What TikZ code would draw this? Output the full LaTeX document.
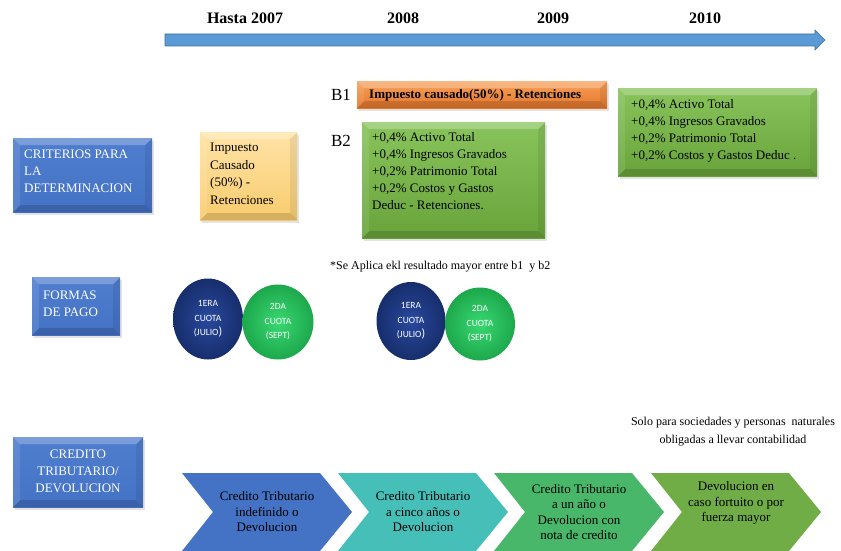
\documentclass[tikz,border=0pt]{standalone}
\usepackage{fontspec}
\setmainfont{Liberation Serif}
\newfontfamily\cuotafont{Carlito}
\usetikzlibrary{shapes.geometric,shadows}

\definecolor{lineblue}{HTML}{5B9BD5}
\definecolor{lineedge}{HTML}{41719C}
\definecolor{boxblue}{HTML}{4472C4}
\definecolor{boxbluetop}{HTML}{4F7ECF}
\definecolor{sandtop}{HTML}{FFE3A6}
\definecolor{sandbot}{HTML}{F8CC6E}
\definecolor{orangetop}{HTML}{F7A05A}
\definecolor{orangebot}{HTML}{E5772A}
\definecolor{leaftop}{HTML}{88C35B}
\definecolor{leafbot}{HTML}{69A43B}
\definecolor{navyin}{HTML}{29499E}
\definecolor{navyout}{HTML}{172E6C}
\definecolor{mintin}{HTML}{38D872}
\definecolor{mintout}{HTML}{1DA84C}
\definecolor{chevA}{HTML}{4472C4}
\definecolor{chevB}{HTML}{45BFB8}
\definecolor{chevC}{HTML}{48B76A}
\definecolor{chevD}{HTML}{70AD47}

\tikzset{
  bevel/.style={path picture={
    \coordinate (bNW) at (path picture bounding box.north west);
    \coordinate (bNE) at (path picture bounding box.north east);
    \coordinate (bSE) at (path picture bounding box.south east);
    \coordinate (bSW) at (path picture bounding box.south west);
    \coordinate (iNW) at ([xshift=7pt,yshift=-7pt]bNW);
    \coordinate (iNE) at ([xshift=-7pt,yshift=-7pt]bNE);
    \coordinate (iSE) at ([xshift=-7pt,yshift=7pt]bSE);
    \coordinate (iSW) at ([xshift=7pt,yshift=7pt]bSW);
    \fill[white,opacity=.25] (bNW)--(bNE)--(iNE)--(iNW)--cycle;
    \fill[white,opacity=.10] (bNW)--(iNW)--(iSW)--(bSW)--cycle;
    \fill[black,opacity=.07] (bNE)--(bSE)--(iSE)--(iNE)--cycle;
    \fill[black,opacity=.14] (bSW)--(iSW)--(iSE)--(bSE)--cycle;
  }},
  panel/.style={rectangle, inner sep=0pt, anchor=north west, bevel,
    drop shadow={shadow xshift=1.5pt, shadow yshift=-3pt, opacity=.22}},
  bluepanel/.style={panel, top color=boxbluetop, bottom color=boxblue},
  sandpanel/.style={panel, top color=sandtop, bottom color=sandbot},
  orangepanel/.style={panel, top color=orangetop, bottom color=orangebot},
  leafpanel/.style={panel, top color=leaftop, bottom color=leafbot},
  body/.style={inner sep=0pt, font=\fontsize{13}{17}\selectfont},
  year/.style={inner sep=0pt, font=\fontsize{16}{18}\selectfont\bfseries},
  blabel/.style={inner sep=0pt, font=\fontsize{17}{18}\selectfont},
  cuota/.style={ellipse, inner sep=0pt, text=white, align=center,
    font=\cuotafont\fontsize{9.5}{14.5}\selectfont},
  chevtext/.style={inner sep=0pt, align=center, font=\fontsize{13}{15.5}\selectfont},
  chev/.pic={\fill[pic actions] (0,0)--(138,0)--(170,39)--(138,78)--(0,78)--(31,39)--cycle;}
}

\begin{document}
\begin{tikzpicture}[x=1pt,y=-1pt]
\path[use as bounding box] (0,0) rectangle (841,551);

% time line with year headings
\filldraw[fill=lineblue, draw=lineedge, line width=.6pt]
  (165,34)--(815,34)--(815,30)--(825,40)--(815,50)--(815,46)--(165,46)--cycle;
\node[year] (y07) at (245,18) {Hasta 2007};
\node[year] (y08) at (403,18) {2008};
\node[year] (y09) at (553,18) {2009};
\node[year] (y10) at (705,18) {2010};

% row: criteria
\node[bluepanel, minimum width=139, minimum height=74] (crit) at (13,138) {};
\node[body, text=white, align=left, anchor=west] (critt) at (24,171)
  {CRITERIOS PARA\\LA\\DETERMINACION};

\node[sandpanel, minimum width=97, minimum height=88] (imp) at (200,132) {};
\node[body, align=left, anchor=west, font=\fontsize{13}{17.5}\selectfont] (impt) at (210,174)
  {Impuesto\\Causado\\(50\%) -\\Retenciones};

\node[blabel] (b1) at (341,95) {B1};
\node[blabel] (b2) at (341,141) {B2};

\node[orangepanel, minimum width=250, minimum height=27] (b1box) at (357,81) {};
\node[body, anchor=west, font=\fontsize{13}{15}\selectfont\bfseries] (b1t) at (369,95)
  {Impuesto causado(50\%) - Retenciones};

\node[leafpanel, minimum width=183, minimum height=116] (b2box) at (362,122) {};
\node[body, align=left, anchor=west] (b2t) at (372,171)
  {+0,4\% Activo Total\\+0,4\% Ingresos Gravados\\+0,2\% Patrimonio Total\\
   +0,2\% Costos y Gastos\\Deduc - Retenciones.};

\node[leafpanel, minimum width=199, minimum height=88] (tenbox) at (618,88) {};
\node[body, align=left, anchor=west] (tent) at (631,131)
  {+0,4\% Activo Total\\+0,4\% Ingresos Gravados\\+0,2\% Patrimonio Total\\
   +0,2\% Costos y Gastos Deduc .};

\node[inner sep=0pt, anchor=west, font=\fontsize{12}{14}\selectfont] (note) at (330,267)
  {*Se Aplica ekl resultado mayor entre b1\ \ y b2};

% row: payment
\node[bluepanel, minimum width=88, minimum height=58] (pago) at (32,277) {};
\node[body, text=white, align=left, anchor=west] (pagot) at (43,304)
  {FORMAS\\DE PAGO};

\node[cuota, shade, inner color=navyin, outer color=navyout,
  minimum width=70, minimum height=81] (c1a) at (208,319)
  {1ERA\\CUOTA\\(JULIO{\fontsize{12}{12}\selectfont)}};
\node[cuota, shade, inner color=mintin, outer color=mintout,
  minimum width=71, minimum height=75] (c2a) at (278,322)
  {2DA\\CUOTA\\(SEPT)};
\node[cuota, shade, inner color=navyin, outer color=navyout,
  minimum width=69, minimum height=78] (c1b) at (411,321)
  {1ERA\\CUOTA\\(JULIO{\fontsize{12}{12}\selectfont)}};
\node[cuota, shade, inner color=mintin, outer color=mintout,
  minimum width=70, minimum height=73] (c2b) at (480,324)
  {2DA\\CUOTA\\(SEPT)};

% row: tax credit / refund
\node[bluepanel, minimum width=130, minimum height=70] (cred) at (13,437) {};
\node[body, text=white, align=center] (credt) at (78,471)
  {CREDITO\\TRIBUTARIO/\\DEVOLUCION};

\node[inner sep=0pt, align=center, font=\fontsize{12}{18}\selectfont] (solo) at (733,432)
  {Solo para sociedades y personas\ \ naturales\\obligadas a llevar contabilidad};

\pic[fill=chevA] at (182,473) {chev};
\pic[fill=chevB] at (338,473) {chev};
\pic[fill=chevC] at (494,473) {chev};
\pic[fill=chevD] at (651,473) {chev};

\node[chevtext] (ch1) at (267,512) {Credito Tributario\\indefinido o\\Devolucion};
\node[chevtext] (ch2) at (423,512) {Credito Tributario\\a cinco años o\\Devolucion};
\node[chevtext] (ch3) at (579,512) {Credito Tributario\\a un año o\\Devolucion con\\nota de credito};
\node[chevtext] (ch4) at (736,503) {Devolucion en\\caso fortuito o por\\fuerza mayor};
\end{tikzpicture}
\end{document}
